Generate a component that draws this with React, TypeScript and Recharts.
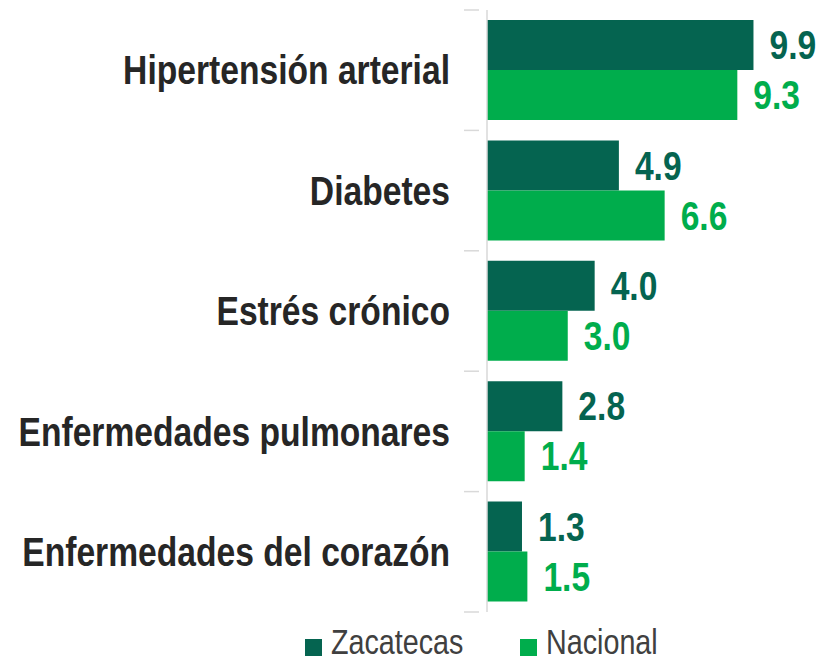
import { BarChart, Bar, XAxis, YAxis, Legend, LabelList } from 'recharts';

// Factores de riesgo: Zacatecas vs Nacional (%)
const categories = [
  'Hipertensión arterial',
  'Diabetes',
  'Estrés crónico',
  'Enfermedades pulmonares',
  'Enfermedades del corazón',
];
const zacatecas = [9.9, 4.9, 4.0, 2.8, 1.3];
const nacional = [9.3, 6.6, 3.0, 1.4, 1.5];

const DARK = '#056450';
const LIGHT = '#00AD4C';
const AXIS = '#d9d9d9';
// no Arial Narrow available -> Liberation Sans squeezed horizontally
const FONT = '"Liberation Sans", Arial, sans-serif';
const NARROW = 0.82;

const data = categories.map((name, i) => ({
  name,
  zacatecas: zacatecas[i],
  nacional: nacional[i],
}));

const TOP = 10;
const PLOT_H = 602;
const BAND = PLOT_H / categories.length;

function CategoryTick(props: any) {
  const { x, y, payload, index } = props;
  return (
    <g>
      <line x1={x - 15} x2={x} y1={y - BAND / 2} y2={y - BAND / 2} stroke={AXIS} strokeWidth={1.5} />
      {index === categories.length - 1 && (
        <line x1={x - 15} x2={x} y1={y + BAND / 2} y2={y + BAND / 2} stroke={AXIS} strokeWidth={1.5} />
      )}
      <text
        transform={`translate(${x - 29},${y}) scale(${NARROW},1)`}
        textAnchor="end"
        dominantBaseline="central"
        fill="#262626"
        fontFamily={FONT}
        fontWeight="bold"
        fontSize={41}
      >
        {payload.value}
      </text>
    </g>
  );
}

function makeValueLabel(color: string) {
  return function ValueLabel(props: any) {
    const { x, y, width, height, value } = props;
    const tx = Number(x) + Number(width) + 16;
    const ty = Number(y) + Number(height) / 2;
    return (
      <text
        transform={`translate(${tx},${ty}) scale(${NARROW},1)`}
        dominantBaseline="central"
        fill={color}
        fontFamily={FONT}
        fontWeight="bold"
        fontSize={41}
      >
        {Number(value).toFixed(1)}
      </text>
    );
  };
}

const DarkLabel = makeValueLabel(DARK);
const LightLabel = makeValueLabel(LIGHT);

function LegendContent() {
  const items = [
    { label: 'Zacatecas', color: DARK, left: 305 },
    { label: 'Nacional', color: LIGHT, left: 520 },
  ];
  return (
    <div style={{ position: 'relative', width: 820, height: 51 }}>
      {items.map((it) => (
        <div key={it.label} style={{ position: 'absolute', left: it.left, top: 0, height: 51 }}>
          <span
            style={{ position: 'absolute', left: 0, top: 27, width: 17, height: 17, background: it.color }}
          />
          <span
            style={{
              position: 'absolute',
              left: 26,
              top: 10,
              fontFamily: FONT,
              fontSize: 35,
              lineHeight: 'normal',
              color: '#404040',
              whiteSpace: 'nowrap',
              transform: `scaleX(${NARROW})`,
              transformOrigin: 'left center',
            }}
          >
            {it.label}
          </span>
        </div>
      ))}
    </div>
  );
}

export default function App() {
  return (
    <div style={{ position: 'absolute', left: 0, top: 0, width: 820, height: 663, background: '#fff' }}>
      <BarChart
        width={820}
        height={663}
        data={data}
        layout="vertical"
        margin={{ top: TOP, right: 10, bottom: 0, left: 0 }}
        barGap={0}
      >
        <XAxis type="number" domain={[0, 12]} hide />
        <YAxis
          type="category"
          dataKey="name"
          width={487}
          axisLine={{ stroke: AXIS, strokeWidth: 1.5 }}
          tickLine={false}
          tick={<CategoryTick />}
          interval={0}
        />
        <Legend verticalAlign="bottom" content={<LegendContent />} />
        <Bar dataKey="zacatecas" name="Zacatecas" fill={DARK} barSize={50} isAnimationActive={false}>
          <LabelList dataKey="zacatecas" content={<DarkLabel />} />
        </Bar>
        <Bar dataKey="nacional" name="Nacional" fill={LIGHT} barSize={50} isAnimationActive={false}>
          <LabelList dataKey="nacional" content={<LightLabel />} />
        </Bar>
      </BarChart>
    </div>
  );
}
